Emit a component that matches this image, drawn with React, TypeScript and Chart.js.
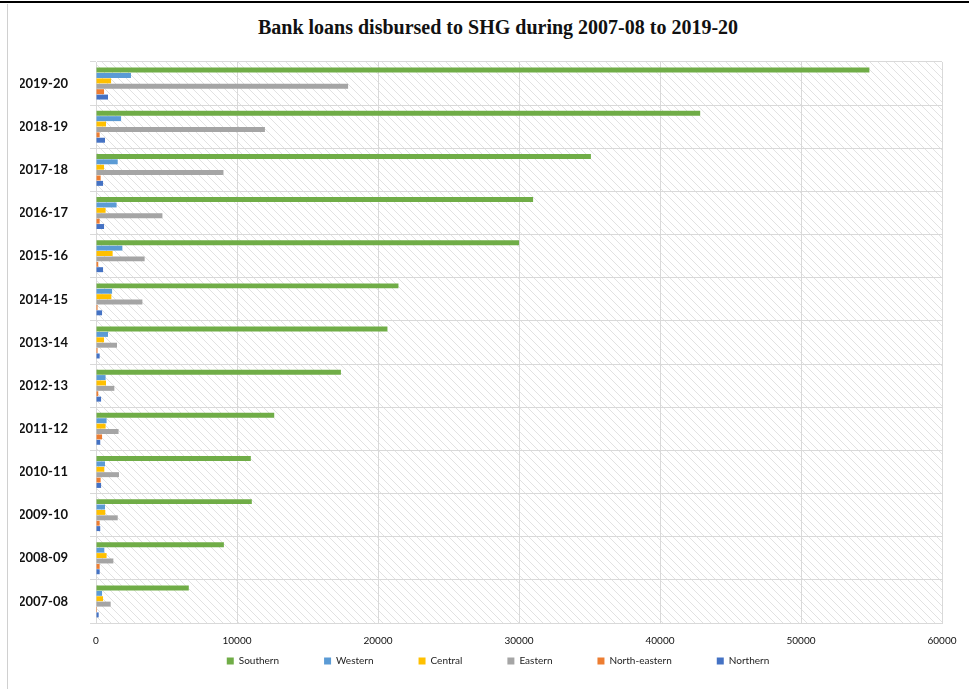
import React, { useEffect, useRef } from "react";
import { Chart, registerables } from "chart.js";

Chart.register(...registerables);

const categories = [
  "2007-08", "2008-09", "2009-10", "2010-11", "2011-12", "2012-13", "2013-14",
  "2014-15", "2015-16", "2016-17", "2017-18", "2018-19", "2019-20",
];

const southern = [6580, 9070, 11050, 10980, 12640, 17370, 20670, 21450, 30000, 31000, 35100, 42850, 54850];
const western = [430, 590, 640, 640, 750, 680, 850, 1140, 1870, 1460, 1540, 1780, 2480];
const central = [500, 750, 660, 590, 680, 710, 570, 1090, 1180, 680, 570, 710, 1070];
const eastern = [1040, 1230, 1540, 1630, 1600, 1300, 1490, 3290, 3450, 4710, 9040, 11980, 17880];
const northEastern = [70, 260, 260, 330, 430, 160, 110, 110, 160, 260, 330, 260, 570];
const northern = [190, 260, 300, 360, 300, 360, 260, 430, 500, 570, 500, 640, 850];

const seriesNames = ["Southern", "Western", "Central", "Eastern", "North-eastern", "Northern"];
const seriesColors = ["#70AD47", "#5B9BD5", "#FFC000", "#A5A5A5", "#ED7D31", "#4472C4"];
const xTicks = [0, 10000, 20000, 30000, 40000, 50000, 60000];

const titleText = "Bank loans disbursed to SHG during 2007-08 to 2019-20";

const LEGEND_PAD = 45;

function makePattern(): CanvasPattern | string {
  const c = document.createElement("canvas");
  c.width = 8;
  c.height = 8;
  const g = c.getContext("2d");
  if (!g) return "#f0f0f0";
  g.fillStyle = "#ffffff";
  g.fillRect(0, 0, 8, 8);
  g.strokeStyle = "#e2e2e2";
  g.lineWidth = 1;
  g.beginPath();
  g.moveTo(-1, -1);
  g.lineTo(9, 9);
  g.moveTo(-5, 3);
  g.lineTo(5, 13);
  g.moveTo(3, -5);
  g.lineTo(13, 5);
  g.stroke();
  const p = g.createPattern(c, "repeat");
  return p || "#f0f0f0";
}

const bgPlugin = {
  id: "hatchBg",
  beforeDraw(chart: any) {
    const { ctx, chartArea } = chart;
    if (!chartArea) return;
    ctx.save();
    ctx.fillStyle = makePattern();
    ctx.fillRect(chartArea.left, chartArea.top, chartArea.right - chartArea.left, chartArea.bottom - chartArea.top);
    ctx.restore();
  },
};

const legendTweak = {
  id: "legendTweak",
  afterInit(chart: any) {
    const lg = chart.legend;
    if (!lg) return;
    const orig = lg.fit.bind(lg);
    lg.fit = () => {
      orig();
      lg.height = 42;
    };
  },
  afterLayout(chart: any) {
    const lg = chart.legend;
    if (!lg) return;
    lg.left += 17;
    lg.right += 17;
    lg.top = 662 - LEGEND_PAD - 6;
  },
};

export default function App() {
  const ref = useRef<HTMLCanvasElement>(null);

  useEffect(() => {
    if (!ref.current) return;
    const seriesData = [southern, western, central, eastern, northEastern, northern];
    const chart = new Chart(ref.current, {
      type: "bar",
      data: {
        labels: categories,
        datasets: seriesNames.map((name, i) => ({
          label: name,
          data: seriesData[i],
          backgroundColor: seriesColors[i],
          borderWidth: 0,
          categoryPercentage: 0.75,
          barPercentage: 0.92,
        })),
      },
      options: {
        indexAxis: "y",
        animation: false,
        responsive: false,
        maintainAspectRatio: false,
        layout: { padding: { left: 20, right: 27, top: 62, bottom: 0 } },
        plugins: {
          title: { display: false },
          tooltip: { enabled: false },
          legend: {
            position: "bottom",
            labels: {
              boxWidth: 7,
              boxHeight: 7,
              padding: LEGEND_PAD,
              color: "#222",
              font: { family: "Lato", size: 10 },
            },
          },
        },
        scales: {
          x: {
            min: 0,
            max: 60000,
            afterBuildTicks: (axis: any) => {
              axis.ticks = xTicks.map((v) => ({ value: v }));
            },
            afterFit: (axis: any) => {
              axis.height = 24;
            },
            ticks: {
              callback: (v: any) => String(v),
              color: "#111",
              font: { family: "Lato", size: 10 },
              padding: 12,
              maxRotation: 0,
            },
            grid: { color: "#d9d9d9", drawTicks: false },
            border: { color: "#d9d9d9" },
          },
          y: {
            reverse: true,
            afterFit: (axis: any) => {
              axis.width = 76;
            },
            ticks: {
              color: "#111",
              font: { family: "Lato", size: 13, weight: "bold" },
              padding: 22,
            },
            grid: { color: "#d9d9d9", tickLength: 6 },
            border: { color: "#d9d9d9" },
          },
        },
      },
      plugins: [bgPlugin, legendTweak],
    });
    return () => chart.destroy();
  }, []);

  return (
    <div style={{ position: "fixed", left: 0, top: 0, width: 969, height: 689, background: "#fff", overflow: "hidden" }}>
      <div style={{ position: "absolute", left: 0, top: 1, width: 969, height: 2, background: "#000" }} />
      <div style={{ position: "absolute", left: 7, top: 4, width: 1, height: 685, background: "#d0d0d0" }} />
      <div
        style={{
          position: "absolute",
          left: 0,
          width: 996,
          top: 14,
          textAlign: "center",
          fontFamily: "'Liberation Serif', 'Times New Roman', serif",
          fontWeight: "bold",
          fontSize: 20,
          lineHeight: "26px",
          color: "#111",
        }}
      >
        {titleText}
      </div>
      <canvas ref={ref} width={969} height={689} style={{ position: "absolute", left: 0, top: 0 }} />
    </div>
  );
}
